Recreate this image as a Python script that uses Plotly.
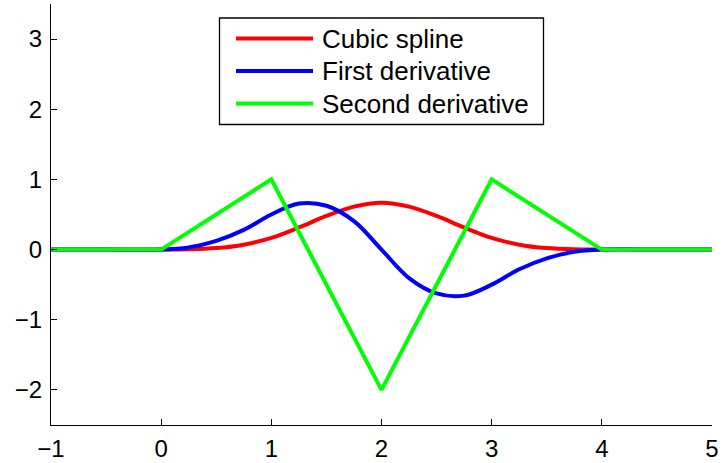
import plotly.graph_objects as go

# Cubic B-spline and its derivatives
x_s = [-1, -0.5, 0, 0.25, 0.5, 0.75, 1, 1.25, 1.5, 1.75, 2, 2.25, 2.5, 2.75, 3, 3.25, 3.5, 3.75, 4, 4.5, 5]
spline = [0, 0, 0, 0.003, 0.021, 0.070, 0.167, 0.315, 0.479, 0.612, 0.667, 0.612, 0.479, 0.315, 0.167, 0.070, 0.021, 0.003, 0, 0, 0]
first_deriv = [0, 0, 0, 0.031, 0.125, 0.281, 0.5, 0.656, 0.625, 0.406, 0, -0.406, -0.625, -0.656, -0.5, -0.281, -0.125, -0.031, 0, 0, 0]
x_d2 = [-1, 0, 1, 2, 3, 4, 5]
second_deriv = [0, 0, 1, -2, 1, 0, 0]

names = ["Cubic spline", "First derivative", "Second derivative"]
colors = ["#ff0000", "#0000ff", "#00ff00"]

FONT = "Liberation Sans, Arial, Helvetica, sans-serif"

W, H = 722, 463
ML, MR, MT, MB = 51, 10, 4, 38
PW, PH = W - ML - MR, H - MT - MB


def px_x(px):
    return (px - ML) / PW


def px_y(py):
    return (H - MB - py) / PH


fig = go.Figure()
fig.add_trace(go.Scatter(x=x_s, y=spline, mode="lines", name=names[0], showlegend=False,
                         line=dict(color=colors[0], width=4, shape="spline")))
fig.add_trace(go.Scatter(x=x_s, y=first_deriv, mode="lines", name=names[1], showlegend=False,
                         line=dict(color=colors[1], width=4, shape="spline")))
fig.add_trace(go.Scatter(x=x_d2, y=second_deriv, mode="lines", name=names[2], showlegend=False,
                         line=dict(color=colors[2], width=4)))

axis_common = dict(showgrid=False, zeroline=False, showline=True, linecolor="black",
                   linewidth=1, ticks="inside", ticklen=6, tickcolor="black",
                   tickwidth=1, mirror=False, automargin=False,
                   tickfont=dict(family=FONT, size=24, color="black"))

# Legend drawn as a box with sample lines and text labels
shapes = [dict(type="rect", xref="paper", yref="paper",
               x0=px_x(219.5), x1=px_x(543.5), y0=px_y(124.5), y1=px_y(18),
               line=dict(color="black", width=1.3), fillcolor="white", layer="above")]
annotations = []
row_y = [38.5, 71, 103.5]
for name, color, ry in zip(names, colors, row_y):
    shapes.append(dict(type="line", xref="paper", yref="paper",
                       x0=px_x(236), x1=px_x(313), y0=px_y(ry), y1=px_y(ry),
                       line=dict(color=color, width=4), layer="above"))
    annotations.append(dict(xref="paper", yref="paper", x=px_x(320), y=px_y(ry),
                            xanchor="left", yanchor="middle", showarrow=False,
                            text=name, font=dict(family=FONT, size=26, color="black")))

fig.update_layout(
    width=W, height=H,
    margin=dict(l=ML, r=MR, t=MT, b=MB, autoexpand=False),
    paper_bgcolor="white", plot_bgcolor="white",
    xaxis=dict(range=[-1, 5], tickvals=[-1, 0, 1, 2, 3, 4, 5],
               ticktext=["\u22121", "0", "1", "2", "3", "4", "5"],
               ticklabelstandoff=2, **axis_common),
    yaxis=dict(range=[-2.5, 3.5], tickvals=[-2, -1, 0, 1, 2, 3],
               ticktext=["\u22122", "\u22121", "0", "1", "2", "3"],
               ticklabelstandoff=3, **axis_common),
    shapes=shapes,
    annotations=annotations,
    showlegend=False,
)

fig.write_html("out.html")
